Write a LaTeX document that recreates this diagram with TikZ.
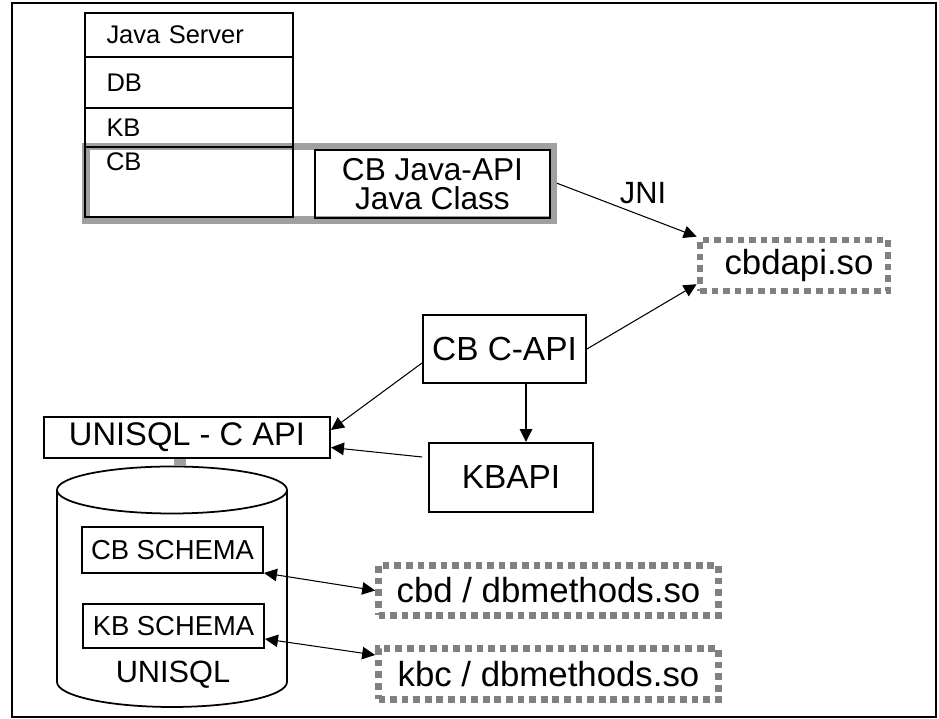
\documentclass[tikz,border=0pt]{standalone}
\usepackage{fontspec}
\setmainfont{Liberation Sans}
\usetikzlibrary{positioning,calc,arrows.meta}
\definecolor{boxgray}{RGB}{160,160,160}
\definecolor{dashgray}{RGB}{128,128,128}
\newcommand{\fsz}[1]{\fontsize{#1}{#1}\selectfont}

\begin{document}
\begin{tikzpicture}[->, >={Triangle[length=2.6mm, width=2.5mm]}, line width=0.6pt,
  box/.style = {draw, line width=1.1pt, inner sep=0pt, font=\fsz{19}},
  row/.style = {draw, line width=1.1pt, text width=3.3cm, inner xsep=0.43cm, inner ysep=0pt, align=left, minimum width=4.16cm, font=\fsz{14.5}},
  dashbox/.style = {draw=dashgray, line width=3.8pt, dash pattern=on 3.8pt off 2.8pt, inner sep=0pt, font=\fsz{19.8}},
  plain/.style = {inner sep=0pt}]

\useasboundingbox (0,0) rectangle (18.78,14.38);
\draw[-, line width=1.1pt] (0.24,0.04) rectangle (18.72,14.32);

% java server stack
\node[draw=boxgray, line width=4pt, minimum width=9.35cm, minimum height=1.47cm, inner sep=0pt] (javabox) at (6.395,10.715) {};
\node[row, minimum height=0.88cm] (jserver) at (3.78,13.68) {Java Server};
\node[row, minimum height=1.02cm] (db) at (3.78,12.73) {DB};
\node[row, minimum height=0.78cm] (kb) at (3.78,11.83) {KB};
\node[row, minimum height=1.4cm] (cb) at (3.78,10.74) {};
\node[plain, font=\fsz{14.5}, anchor=north west] (cblabel) at ($(cb.north west)+(0.43,-0.12)$) {CB};
\node[box, minimum width=4.7cm, minimum height=1.36cm, align=center, font=\fontsize{18}{16.5}\selectfont] (cbjava) at (8.65,10.70) {CB Java-API\\Java Class};

% shared libraries and APIs
\node[dashbox, minimum width=3.76cm, minimum height=1.02cm] (cbdapi) at (15.88,9.07) {\hspace{0.2cm}cbdapi.so};
\node[plain, font=\fsz{17.5}] (jni) at (12.86,10.52) {JNI};
\node[box, minimum width=3.26cm, minimum height=1.36cm] (capi) at (10.09,7.40) {CB C-API};
\node[box, minimum width=3.28cm, minimum height=1.38cm] (kbapi) at (10.22,4.83) {KBAPI};
\node[box, minimum width=5.72cm, minimum height=0.82cm, font=\fsz{18.6}] (api) at (3.74,5.63) {UNISQL - C API};

% database
\draw[-, line width=1pt] (1.14,4.58) -- (1.14,0.74) arc[start angle=180, end angle=360, x radius=2.3, y radius=0.5] -- (5.74,4.58);
\draw[-, line width=1pt] (3.44,4.58) ellipse[x radius=2.3, y radius=0.47];
\coordinate (dbtop) at (3.6,5.05);
\node[box, minimum width=3.62cm, minimum height=0.92cm, font=\fsz{15.6}] (cbschema) at (3.45,3.38) {CB SCHEMA};
\node[box, minimum width=3.62cm, minimum height=0.88cm, font=\fsz{15.6}] (kbschema) at (3.47,1.86) {KB SCHEMA};
\node[plain, font=\fsz{17.5}] (unisql) at (3.46,0.88) {UNISQL};

\node[dashbox, minimum width=6.8cm, minimum height=1.0cm] (cbdm) at (10.97,2.57) {cbd / dbmethods.so\hspace{0.3cm}};
\node[dashbox, minimum width=6.8cm, minimum height=1.02cm] (kbcm) at (10.97,0.90) {kbc / dbmethods.so\hspace{0.3cm}};

% connectors
\draw[-, boxgray, line width=0.24cm] (api.south -| dbtop) -- (dbtop);
\draw (javabox.east) -- (cbdapi.north west);
\draw (capi.east) -- ($(cbdapi.west)!0.65!(cbdapi.south west)$);
\draw ([yshift=-0.28cm]capi.west) -- ([yshift=0.15cm]api.east);
\draw ([xshift=-0.12cm, yshift=0.41cm]kbapi.west) -- ([yshift=-0.2cm]api.east);
\draw[line width=1pt] ([xshift=0.43cm]capi.south) -- ([xshift=0.43cm]capi.south |- kbapi.north);
\draw[<->] ([yshift=0.02cm]cbschema.south east) -- (cbdm.west);
\draw[<->] ([yshift=0.2cm]kbschema.south east) -- ([yshift=0.38cm]kbcm.west);
\end{tikzpicture}
\end{document}
